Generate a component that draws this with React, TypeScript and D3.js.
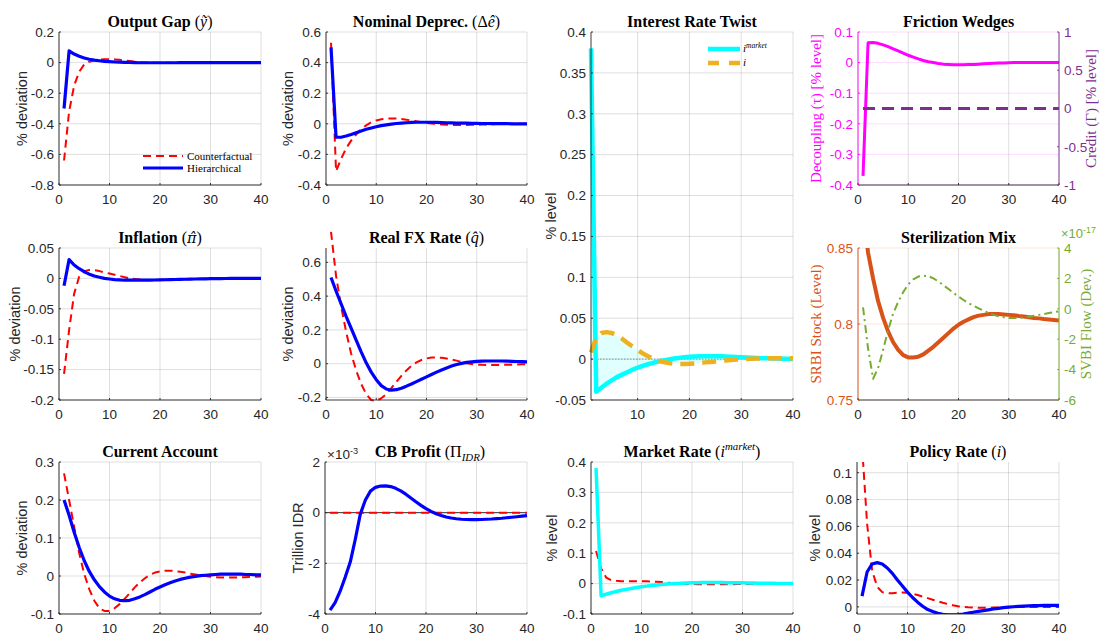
import React from 'react';
import * as d3 from 'd3';

// ---------------- DATA ----------------
const periods: number[] = Array.from({ length: 40 }, (_, i) => i + 1);

const outputGapHier = [-0.30, 0.077, 0.056, 0.041, 0.030, 0.022, 0.016, 0.012, 0.008, 0.006,
  0.004, 0.003, 0.002, 0.001, 0.000, -0.001, -0.001, -0.001, -0.001, -0.001,
  -0.001, -0.001, -0.001, 0, 0, 0, 0, 0, 0, 0,
  0, 0, 0, 0, 0, 0, 0, 0, 0, 0];
const outputGapCF = [-0.64, -0.32, -0.15, -0.06, -0.012, 0.006, 0.015, 0.02, 0.022, 0.022,
  0.021, 0.018, 0.014, 0.01, 0.006, 0.003, 0.001, 0, -0.001, -0.001,
  -0.001, -0.001, -0.001, -0.001, 0, 0, 0, 0, 0, 0,
  0, 0, 0, 0, 0, 0, 0, 0, 0, 0];

const deprecHier = [0.50, -0.088, -0.088, -0.08, -0.07, -0.058, -0.047, -0.036, -0.027, -0.019,
  -0.012, -0.007, -0.002, 0.002, 0.005, 0.007, 0.009, 0.01, 0.01, 0.01,
  0.01, 0.009, 0.008, 0.007, 0.006, 0.005, 0.004, 0.004, 0.003, 0.003,
  0.002, 0.002, 0.001, 0.001, 0.001, 0.001, 0, 0, 0, 0];
const deprecCF = [0.53, -0.31, -0.23, -0.16, -0.11, -0.07, -0.035, -0.01, 0.01, 0.022,
  0.03, 0.034, 0.035, 0.034, 0.031, 0.027, 0.022, 0.016, 0.011, 0.006,
  0.002, -0.001, -0.004, -0.006, -0.007, -0.008, -0.008, -0.008, -0.007, -0.006,
  -0.005, -0.004, -0.003, -0.002, -0.001, -0.001, 0, 0, 0, 0];

const inflationHier = [-0.012, 0.031, 0.022, 0.016, 0.011, 0.007, 0.004, 0.002, 0.0, -0.001,
  -0.002, -0.0025, -0.003, -0.003, -0.003, -0.003, -0.003, -0.0028, -0.0026, -0.0024,
  -0.0022, -0.002, -0.0018, -0.0016, -0.0014, -0.0012, -0.001, -0.0008, -0.0007, -0.0005,
  -0.0004, -0.0003, -0.0002, -0.0001, 0, 0, 0, 0, 0, 0];
const inflationCF = [-0.157, -0.085, -0.025, 0.003, 0.012, 0.014, 0.0135, 0.012, 0.01, 0.008,
  0.006, 0.004, 0.002, 0.0, -0.001, -0.002, -0.0025, -0.0028, -0.0026, -0.0024,
  -0.0022, -0.002, -0.0018, -0.0016, -0.0014, -0.0012, -0.001, -0.0008, -0.0007, -0.0005,
  -0.0004, -0.0003, -0.0002, -0.0001, 0, 0, 0, 0, 0, 0];

const realFxHier = [0.51, 0.43, 0.355, 0.28, 0.21, 0.14, 0.07, 0.005, -0.05, -0.095,
  -0.13, -0.15, -0.157, -0.154, -0.145, -0.133, -0.12, -0.106, -0.092, -0.078,
  -0.064, -0.05, -0.037, -0.025, -0.014, -0.005, 0.002, 0.008, 0.011, 0.014,
  0.015, 0.016, 0.016, 0.016, 0.016, 0.015, 0.014, 0.013, 0.012, 0.011];
const realFxCF = [0.78, 0.52, 0.34, 0.19, 0.06, -0.04, -0.12, -0.18, -0.215, -0.22,
  -0.205, -0.18, -0.145, -0.108, -0.072, -0.04, -0.012, 0.008, 0.022, 0.031,
  0.036, 0.037, 0.035, 0.031, 0.025, 0.018, 0.01, 0.003, -0.002, -0.005,
  -0.007, -0.008, -0.008, -0.008, -0.007, -0.007, -0.006, -0.005, -0.004, -0.003];

const caHier = [0.2, 0.16, 0.115, 0.075, 0.04, 0.012, -0.01, -0.028, -0.042, -0.053,
  -0.06, -0.064, -0.065, -0.064, -0.06, -0.055, -0.049, -0.042, -0.035, -0.029,
  -0.023, -0.018, -0.013, -0.009, -0.006, -0.003, -0.001, 0.001, 0.002, 0.003,
  0.004, 0.005, 0.005, 0.005, 0.005, 0.005, 0.004, 0.004, 0.003, 0.003];
const caCF = [0.27, 0.2, 0.13, 0.06, 0.005, -0.035, -0.065, -0.085, -0.092, -0.092,
  -0.085, -0.074, -0.06, -0.045, -0.03, -0.017, -0.006, 0.003, 0.009, 0.012,
  0.014, 0.014, 0.013, 0.011, 0.009, 0.006, 0.004, 0.002, 0.0, -0.002,
  -0.003, -0.004, -0.004, -0.004, -0.004, -0.003, -0.003, -0.002, -0.002, -0.001];

// CB profit in units of 1e-3 trillion IDR
const cbProfitHier = [-3.85, -3.55, -3.1, -2.55, -1.95, -1.05, -0.05, 0.5, 0.85, 1.0,
  1.05, 1.06, 1.03, 0.96, 0.86, 0.73, 0.58, 0.43, 0.29, 0.16,
  0.05, -0.04, -0.11, -0.17, -0.21, -0.24, -0.26, -0.27, -0.275, -0.275,
  -0.27, -0.26, -0.25, -0.235, -0.22, -0.2, -0.18, -0.16, -0.14, -0.12];
const cbProfitCF = [0, 0, 0, 0, 0, 0, 0, 0, 0, 0, 0, 0, 0, 0, 0, 0, 0, 0, 0, 0,
  0, 0, 0, 0, 0, 0, 0, 0, 0, 0, 0, 0, 0, 0, 0, 0, 0, 0, 0, 0];

const marketRateHier = [0.38, -0.04, -0.035, -0.03, -0.026, -0.022, -0.019, -0.016, -0.013, -0.0105,
  -0.0083, -0.0063, -0.0045, -0.003, -0.0015, -0.0003, 0.0007, 0.0015, 0.0022, 0.0028,
  0.0032, 0.0035, 0.0036, 0.0036, 0.0035, 0.0034, 0.0032, 0.003, 0.0027, 0.0024,
  0.0021, 0.0018, 0.0015, 0.0012, 0.001, 0.0008, 0.0006, 0.0004, 0.0003, 0.0002];
const marketRateCF = [0.107, 0.05, 0.02, 0.011, 0.009, 0.008, 0.008, 0.008, 0.008, 0.008,
  0.0075, 0.007, 0.006, 0.005, 0.0035, 0.002, 0.001, 0, -0.001, -0.0015,
  -0.002, -0.0022, -0.0024, -0.0025, -0.0025, -0.0024, -0.0022, -0.002, -0.0017, -0.0014,
  -0.0011, -0.0008, -0.0006, -0.0004, -0.0002, 0, 0, 0, 0, 0];

const policyRateHier = [0.008, 0.026, 0.032, 0.033, 0.032, 0.029, 0.025, 0.02, 0.0155, 0.011,
  0.007, 0.0035, 0.0005, -0.002, -0.0035, -0.0048, -0.0056, -0.006, -0.006, -0.0058,
  -0.0053, -0.0047, -0.004, -0.0034, -0.0028, -0.0022, -0.0016, -0.0011, -0.0006, -0.0002,
  0.0001, 0.0004, 0.0006, 0.0008, 0.0009, 0.001, 0.0011, 0.0011, 0.0012, 0.0012];
const policyRateCF = [0.12, 0.062, 0.027, 0.015, 0.011, 0.0102, 0.0102, 0.0105, 0.0107, 0.0105,
  0.0098, 0.0088, 0.0077, 0.0065, 0.0053, 0.0042, 0.0031, 0.0021, 0.0012, 0.0005,
  0.0, -0.0003, -0.0005, -0.0006, -0.0006, -0.0006, -0.0005, -0.0004, -0.0003, -0.0002,
  -0.0001, 0, 0, 0, 0, 0, 0, 0, 0, 0];

const decoupling = [-0.37, 0.065, 0.066, 0.063, 0.058, 0.052, 0.045, 0.038, 0.031, 0.024,
  0.018, 0.012, 0.007, 0.003, 0.0, -0.003, -0.005, -0.006, -0.007, -0.007,
  -0.007, -0.0065, -0.006, -0.005, -0.004, -0.003, -0.002, -0.0015, -0.001, -0.0005,
  0, 0, 0, 0, 0, 0, 0, 0, 0, 0];
const credit = [0, 0, 0, 0, 0, 0, 0, 0, 0, 0, 0, 0, 0, 0, 0, 0, 0, 0, 0, 0,
  0, 0, 0, 0, 0, 0, 0, 0, 0, 0, 0, 0, 0, 0, 0, 0, 0, 0, 0, 0];

const srbiStock = [0.875, 0.847, 0.83, 0.815, 0.804, 0.795, 0.788, 0.783, 0.7795, 0.778,
  0.778, 0.7785, 0.78, 0.7825, 0.785, 0.788, 0.791, 0.794, 0.797, 0.7995,
  0.8015, 0.803, 0.8045, 0.8055, 0.806, 0.8065, 0.8065, 0.8065, 0.8063, 0.806,
  0.8057, 0.8053, 0.805, 0.8045, 0.804, 0.8037, 0.8033, 0.803, 0.8027, 0.8023];
// SVBI flow in units of 1e-17
const svbiFlow = [0.1, -2.6, -4.6, -3.9, -2.7, -1.4, -0.3, 0.45, 1.1, 1.6,
  1.93, 2.12, 2.18, 2.15, 2.0, 1.8, 1.55, 1.3, 1.05, 0.8,
  0.58, 0.38, 0.2, 0.03, -0.12, -0.28, -0.4, -0.5, -0.56, -0.6,
  -0.61, -0.6, -0.56, -0.52, -0.46, -0.4, -0.34, -0.28, -0.22, -0.17];

// tick values
const ticks0to40 = [0, 10, 20, 30, 40];
const ticks10to40 = [10, 20, 30, 40];
const outputGapTicks = [-0.8, -0.6, -0.4, -0.2, 0, 0.2];
const deprecTicks = [-0.4, -0.2, 0, 0.2, 0.4, 0.6];
const twistTicks = [-0.05, 0, 0.05, 0.1, 0.15, 0.2, 0.25, 0.3, 0.35, 0.4];
const decouplingTicks = [-0.4, -0.3, -0.2, -0.1, 0, 0.1];
const creditTicks = [-1, -0.5, 0, 0.5, 1];
const inflationTicks = [-0.2, -0.15, -0.1, -0.05, 0, 0.05];
const realFxTicks = [-0.2, 0, 0.2, 0.4, 0.6];
const srbiTicks = [0.75, 0.8, 0.85];
const svbiTicks = [-6, -4, -2, 0, 2, 4];
const caTicks = [-0.1, 0, 0.1, 0.2, 0.3];
const cbTicks = [-4, -2, 0, 2];
const marketTicks = [-0.1, 0, 0.1, 0.2, 0.3, 0.4];
const policyTicks = [0, 0.02, 0.04, 0.06, 0.08, 0.1];

// ---------------- STYLE ----------------
const SANS = '"Liberation Sans", Arial, Helvetica, sans-serif';
const SERIF = '"Liberation Serif", "Times New Roman", serif';
const DVSERIF = '"DejaVu Serif", serif';
const AX = '#262626';
const BLUE = '#0000ff';
const RED = '#ff0000';
const CYAN = '#00ffff';
const GOLD = '#EDB120';
const MAG = '#ff00ff';
const PURP = '#7E2F8E';
const ORNG = '#D95319';
const GRN = '#77AC30';

type Seg = { t: string; b?: boolean; i?: boolean; sup?: boolean; sub?: boolean; f?: string; s?: number };
type Line = { data: number[]; color: string; width: number; dash?: string; right?: boolean };

interface PanelCfg {
  id: string;
  x0: number; y0: number; w: number; h: number;
  xDomain: [number, number]; xTicks: number[];
  yDomain: [number, number]; yTicks: number[];
  yColor?: string;
  ylabel: string; ylabelX: number; ylabelSerif?: boolean; ylabelColor?: string;
  right?: { domain: [number, number]; ticks: number[]; color: string; label: string; labelX: number };
  title: Seg[]; titleX?: number;
  lines: Line[];
  clip?: boolean;
  zeroLine?: 'dotted' | 'solid';
  area?: [number[], number[]];
}

const fmt = (v: number) => String(+v.toFixed(6));

function RichText({ x, y, segs, size, anchor = 'middle', family = SERIF, fill = '#000' }:
  { x: number; y: number; segs: Seg[]; size: number; anchor?: string; family?: string; fill?: string }) {
  let shift = 0;
  const nodes = segs.map((s, k) => {
    const target = s.sup ? -size * 0.4 : s.sub ? size * 0.25 : 0;
    const dy = target - shift;
    shift = target;
    return (
      <tspan key={k} dy={dy} fontWeight={s.b ? 'bold' : 'normal'} fontStyle={s.i ? 'italic' : 'normal'}
        fontFamily={s.f} fontSize={(s.sup || s.sub ? size * 0.68 : size) * (s.s || 1)}>{s.t}</tspan>
    );
  });
  return <text x={x} y={y} textAnchor={anchor as any} fontFamily={family} fill={fill}>{nodes}</text>;
}

function Panel({ cfg, children }: { cfg: PanelCfg; children?: React.ReactNode }) {
  const { x0, y0, w, h } = cfg;
  const x = d3.scaleLinear().domain(cfg.xDomain).range([x0, x0 + w]);
  const y = d3.scaleLinear().domain(cfg.yDomain).range([y0 + h, y0]);
  const yr = cfg.right ? d3.scaleLinear().domain(cfg.right.domain).range([y0 + h, y0]) : null;
  const yColor = cfg.yColor || AX;
  const gridH = cfg.yColor || AX;
  const clipId = `clip-${cfg.id}`;
  const lineGen = (sc: d3.ScaleLinear<number, number>) =>
    d3.line<number>().x((_, i) => x(periods[i])).y(d => sc(d));
  const areaPath = cfg.area
    ? d3.area<number>().x((_, i) => x(periods[i])).y0((d) => y(d)).y1((_, i) => y(cfg.area![1][i]))(cfg.area[0])
    : null;
  const bottom = y0 + h;
  return (
    <g>
      <defs>
        <clipPath id={clipId}><rect x={x0} y={y0} width={w} height={h} /></clipPath>
      </defs>
      {cfg.xTicks.map(t => (
        <line key={'gx' + t} x1={x(t)} x2={x(t)} y1={y0} y2={bottom} stroke={AX} strokeOpacity={0.15} strokeWidth={1} />
      ))}
      {cfg.yTicks.map(t => (
        <line key={'gy' + t} x1={x0} x2={x0 + w} y1={y(t)} y2={y(t)} stroke={gridH} strokeOpacity={0.15} strokeWidth={1} />
      ))}
      <g clipPath={cfg.clip ? `url(#${clipId})` : undefined}>
        {areaPath && <path d={areaPath} fill={CYAN} fillOpacity={0.12} stroke="none" />}
        {cfg.zeroLine === 'dotted' && (
          <line x1={x0} x2={x0 + w} y1={y(0)} y2={y(0)} stroke="#777" strokeWidth={0.8} strokeDasharray="1.5,1.5" />
        )}
        {cfg.zeroLine === 'solid' && (
          <line x1={x0} x2={x0 + w} y1={y(0)} y2={y(0)} stroke="#333" strokeWidth={1} />
        )}
        {cfg.lines.map((l, k) => (
          <path key={k} d={lineGen(l.right && yr ? yr : y)(l.data) || ''} fill="none" stroke={l.color}
            strokeWidth={l.width} strokeDasharray={l.dash} strokeLinejoin="round" />
        ))}
      </g>
      <line x1={x0} x2={x0 + w} y1={bottom} y2={bottom} stroke={AX} strokeWidth={0.9} />
      <line x1={x0} x2={x0} y1={y0} y2={bottom} stroke={yColor} strokeWidth={0.9} />
      {cfg.xTicks.map(t => (
        <g key={'xt' + t}>
          <line x1={x(t)} x2={x(t)} y1={bottom} y2={bottom - 2} stroke={AX} strokeWidth={0.9} />
          <text x={x(t)} y={bottom + 19} textAnchor="middle" fontFamily={SANS} fontSize={13.5} fill={AX}>{fmt(t)}</text>
        </g>
      ))}
      {cfg.yTicks.map(t => (
        <g key={'yt' + t}>
          <line x1={x0} x2={x0 + 2} y1={y(t)} y2={y(t)} stroke={yColor} strokeWidth={0.9} />
          <text x={x0 - 5} y={y(t) + 4.8} textAnchor="end" fontFamily={SANS} fontSize={13.5} fill={yColor}>{fmt(t)}</text>
        </g>
      ))}
      {cfg.right && yr && (
        <g>
          <line x1={x0 + w} x2={x0 + w} y1={y0} y2={bottom} stroke={cfg.right.color} strokeWidth={0.9} />
          {cfg.right.ticks.map(t => (
            <g key={'rt' + t}>
              <line x1={x0 + w} x2={x0 + w - 2} y1={yr(t)} y2={yr(t)} stroke={cfg.right!.color} strokeWidth={0.9} />
              <text x={x0 + w + 5} y={yr(t) + 4.8} textAnchor="start" fontFamily={SANS} fontSize={13.5}
                fill={cfg.right!.color}>{fmt(t)}</text>
            </g>
          ))}
          <text transform={`translate(${cfg.right.labelX},${y0 + h / 2}) rotate(-90)`} textAnchor="middle"
            fontFamily={SERIF} fontSize={15} fill={cfg.right.color}>{cfg.right.label}</text>
        </g>
      )}
      <text transform={`translate(${cfg.ylabelX},${y0 + h / 2}) rotate(-90)`} textAnchor="middle"
        fontFamily={cfg.ylabelSerif ? SERIF : SANS} fontSize={cfg.ylabelSerif ? 15 : 14.5}
        fill={cfg.ylabelColor || AX}>{cfg.ylabel}</text>
      <RichText x={cfg.titleX ?? x0 + w / 2} y={y0 - 5.5} segs={cfg.title} size={16} />
      {children}
    </g>
  );
}

const R1: [number, number] = [32, 153];
const R2: [number, number] = [248, 152];
const R3: [number, number] = [462, 152];
const C = [59, 326, 591, 858];
const W = [202, 201, 202, 201];

const redDash = '8,5';

const panels: PanelCfg[] = [
  {
    id: 'og', x0: C[0], y0: R1[0], w: W[0], h: R1[1], xDomain: [0, 40], xTicks: ticks0to40,
    yDomain: [-0.8, 0.2], yTicks: outputGapTicks, ylabel: '% deviation', ylabelX: 27,
    title: [{ t: 'Output Gap ', b: true }, { t: '(' }, { t: 'ỹ', i: true }, { t: ')' }],
    lines: [
      { data: outputGapCF, color: RED, width: 2, dash: redDash },
      { data: outputGapHier, color: BLUE, width: 3.2 },
    ],
  },
  {
    id: 'nd', x0: C[1], y0: R1[0], w: W[1], h: R1[1], xDomain: [0, 40], xTicks: ticks0to40,
    yDomain: [-0.4, 0.6], yTicks: deprecTicks, ylabel: '% deviation', ylabelX: 293,
    title: [{ t: 'Nominal Deprec. ', b: true }, { t: '(Δ' }, { t: 'ê', i: true }, { t: ')' }],
    lines: [
      { data: deprecCF, color: RED, width: 2, dash: redDash },
      { data: deprecHier, color: BLUE, width: 3.2 },
    ],
  },
  {
    id: 'tw', x0: C[2], y0: 32, w: W[2], h: 368, xDomain: [1, 40], xTicks: ticks10to40,
    yDomain: [-0.05, 0.4], yTicks: twistTicks, ylabel: '% level', ylabelX: 556,
    title: [{ t: 'Interest Rate Twist', b: true }],
    area: [marketRateHier, policyRateHier], zeroLine: 'dotted',
    lines: [
      { data: marketRateHier, color: CYAN, width: 4.5 },
      { data: policyRateHier, color: GOLD, width: 4.5, dash: '14,8' },
    ],
  },
  {
    id: 'fw', x0: C[3], y0: R1[0], w: W[3], h: R1[1], xDomain: [0, 40], xTicks: ticks0to40,
    yDomain: [-0.4, 0.1], yTicks: decouplingTicks, yColor: MAG,
    ylabel: 'Decoupling (τ) [% level]', ylabelX: 821, ylabelSerif: true, ylabelColor: MAG,
    right: { domain: [-1, 1], ticks: creditTicks, color: PURP, label: 'Credit (Γ) [% level]', labelX: 1096 },
    title: [{ t: 'Friction Wedges', b: true }],
    lines: [
      { data: decoupling, color: MAG, width: 3 },
      { data: credit, color: PURP, width: 3, dash: '12,7', right: true },
    ],
  },
  {
    id: 'inf', x0: C[0], y0: R2[0], w: W[0], h: R2[1], xDomain: [0, 40], xTicks: ticks0to40,
    yDomain: [-0.2, 0.05], yTicks: inflationTicks, ylabel: '% deviation', ylabelX: 20,
    title: [{ t: 'Inflation ', b: true }, { t: '(' }, { t: 'π̂', i: true, f: DVSERIF, s: 0.9 }, { t: ')' }],
    lines: [
      { data: inflationCF, color: RED, width: 2, dash: redDash },
      { data: inflationHier, color: BLUE, width: 3.2 },
    ],
  },
  {
    id: 'fx', x0: C[1], y0: R2[0], w: W[1], h: R2[1], xDomain: [0, 40], xTicks: ticks0to40,
    yDomain: [-0.215, 0.685], yTicks: realFxTicks, ylabel: '% deviation', ylabelX: 293,
    title: [{ t: 'Real FX Rate ', b: true }, { t: '(' }, { t: 'q̂', i: true }, { t: ')' }],
    lines: [
      { data: realFxCF, color: RED, width: 2, dash: redDash },
      { data: realFxHier, color: BLUE, width: 3.2 },
    ],
  },
  {
    id: 'st', x0: C[3], y0: R2[0], w: W[3], h: R2[1], xDomain: [0, 40], xTicks: ticks0to40,
    yDomain: [0.75, 0.85], yTicks: srbiTicks, yColor: ORNG, clip: true,
    ylabel: 'SRBI Stock (Level)', ylabelX: 821, ylabelSerif: true, ylabelColor: ORNG,
    right: { domain: [-6, 4], ticks: svbiTicks, color: GRN, label: 'SVBI Flow (Dev.)', labelX: 1091 },
    title: [{ t: 'Sterilization Mix', b: true }],
    lines: [
      { data: srbiStock, color: ORNG, width: 4 },
      { data: svbiFlow, color: GRN, width: 2, dash: '8,4,2,4', right: true },
    ],
  },
  {
    id: 'ca', x0: C[0], y0: R3[0], w: W[0], h: R3[1], xDomain: [0, 40], xTicks: ticks0to40,
    yDomain: [-0.1, 0.3], yTicks: caTicks, ylabel: '% deviation', ylabelX: 27,
    title: [{ t: 'Current Account', b: true }],
    lines: [
      { data: caCF, color: RED, width: 2, dash: redDash },
      { data: caHier, color: BLUE, width: 3.2 },
    ],
  },
  {
    id: 'cb', x0: 325, y0: R3[0], w: 202, h: R3[1], xDomain: [0, 40], xTicks: ticks0to40,
    yDomain: [-4, 2], yTicks: cbTicks, ylabel: 'Trillion IDR', ylabelX: 303, zeroLine: 'solid',
    title: [{ t: 'CB Profit ', b: true }, { t: '(Π' }, { t: 'IDR', i: true, sub: true }, { t: ')' }],
    titleX: 430,
    lines: [
      { data: cbProfitCF, color: RED, width: 2, dash: redDash },
      { data: cbProfitHier, color: BLUE, width: 3.2 },
    ],
  },
  {
    id: 'mr', x0: C[2], y0: R3[0], w: W[2], h: R3[1], xDomain: [0, 40], xTicks: ticks0to40,
    yDomain: [-0.1, 0.4], yTicks: marketTicks, ylabel: '% level', ylabelX: 557,
    title: [{ t: 'Market Rate ', b: true }, { t: '(' }, { t: 'i', i: true }, { t: 'market', i: true, sup: true }, { t: ')' }],
    lines: [
      { data: marketRateCF, color: RED, width: 2, dash: redDash },
      { data: marketRateHier, color: CYAN, width: 3.5 },
    ],
  },
  {
    id: 'pr', x0: 857, y0: R3[0], w: 202, h: R3[1], xDomain: [0, 40], xTicks: ticks0to40,
    yDomain: [-0.0053, 0.108], yTicks: policyTicks, ylabel: '% level', ylabelX: 820, clip: true,
    title: [{ t: 'Policy Rate ', b: true }, { t: '(' }, { t: 'i', i: true }, { t: ')' }],
    lines: [
      { data: policyRateCF, color: RED, width: 2, dash: redDash },
      { data: policyRateHier, color: BLUE, width: 3.2 },
    ],
  },
];

export default function App() {
  return (
    <svg width={1101} height={635} style={{ position: 'absolute', left: 0, top: 0, background: '#fff' }}>
      <rect x={0} y={0} width={1101} height={635} fill="#fff" />
      {panels.map(p => {
        let extra: React.ReactNode = null;
        if (p.id === 'og') {
          extra = (
            <g>
              <line x1={143} x2={183} y1={156} y2={156} stroke={RED} strokeWidth={2} strokeDasharray="8,5" />
              <text x={187} y={159.5} fontFamily={SERIF} fontSize={11} fill="#000">Counterfactual</text>
              <line x1={143} x2={183} y1={168} y2={168} stroke={BLUE} strokeWidth={3.2} />
              <text x={187} y={171.5} fontFamily={SERIF} fontSize={11} fill="#000">Hierarchical</text>
            </g>
          );
        } else if (p.id === 'tw') {
          extra = (
            <g>
              <line x1={708} x2={740} y1={49} y2={49} stroke={CYAN} strokeWidth={4.5} />
              <RichText x={743} y={52} anchor="start" size={11}
                segs={[{ t: 'i', i: true }, { t: 'market', i: true, sup: true }]} />
              <line x1={708} x2={740} y1={63} y2={63} stroke={GOLD} strokeWidth={4.5} strokeDasharray="11,10" />
              <RichText x={743} y={66} anchor="start" size={11} segs={[{ t: 'i', i: true }]} />
            </g>
          );
        } else if (p.id === 'cb') {
          extra = (
            <RichText x={327} y={459} anchor="start" size={13.5} family={SANS} fill={AX}
              segs={[{ t: '×10' }, { t: '-3', sup: true }]} />
          );
        } else if (p.id === 'st') {
          extra = (
            <RichText x={1061} y={238} anchor="start" size={13} family={SANS} fill={GRN}
              segs={[{ t: '×10' }, { t: '-17', sup: true }]} />
          );
        }
        return <Panel key={p.id} cfg={p}>{extra}</Panel>;
      })}
    </svg>
  );
}
